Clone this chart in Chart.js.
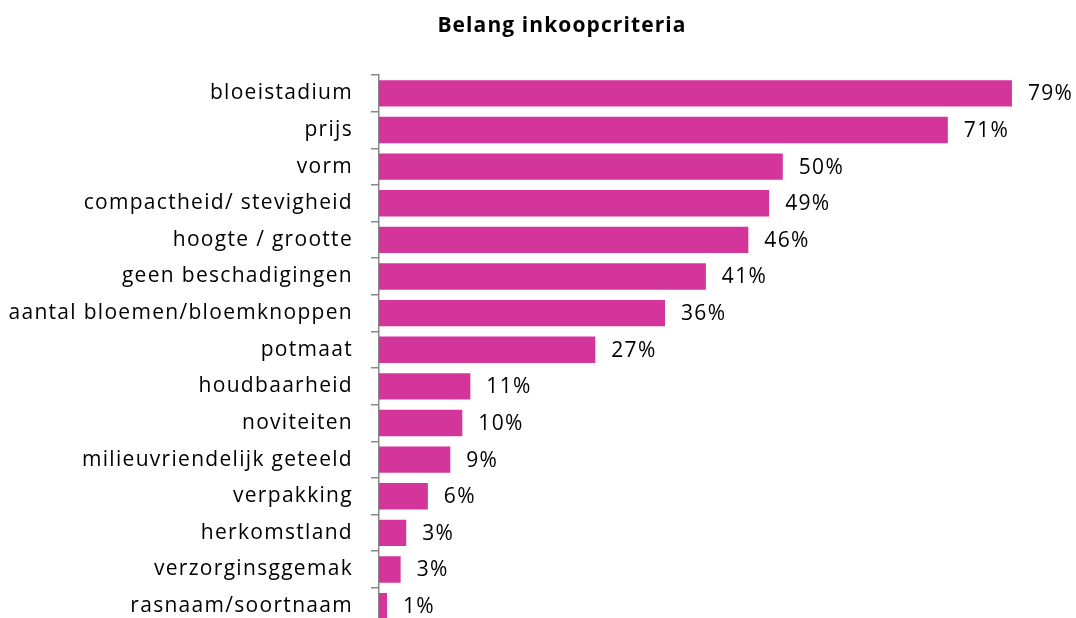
<!DOCTYPE html>
<html>
<head>
<meta charset="utf-8">
<script src="https://cdn.jsdelivr.net/npm/chart.js@4/dist/chart.umd.min.js"></script>
<style>
  html, body { margin: 0; padding: 0; background: #fff; overflow: hidden; }
</style>
</head>
<body>
<canvas id="inkoopChart" width="1076" height="655"></canvas>
<script>
// categories, top to bottom
var criteria = ["bloeistadium", "prijs", "vorm", "compactheid/ stevigheid", "hoogte / grootte",
  "geen beschadigingen", "aantal bloemen/bloemknoppen", "potmaat", "houdbaarheid", "noviteiten",
  "milieuvriendelijk geteeld", "verpakking", "herkomstland", "verzorginsggemak", "rasnaam/soortnaam"];
// share of buyers (%)
var belang = [79, 71, 50.4, 48.7, 46.1, 40.8, 35.7, 27, 11.4, 10.4, 8.9, 6.1, 3.4, 2.7, 1];

var chartTitle = "Belang inkoopcriteria";
var barColor = "#D4359B";
var fontName = "'Open Sans', Lato, sans-serif";

// the source font runs wide, so space the letters out a bit
var wideText = {
  id: 'wideText',
  beforeDraw: function(chart) {
    chart.ctx.letterSpacing = "1.3px";
  }
};

// title, centred a little right of the canvas middle as in the original
var titleText = {
  id: 'titleText',
  afterDraw: function(chart) {
    var ctx = chart.ctx;
    ctx.save();
    ctx.letterSpacing = "1.1px";
    ctx.font = "bold 21px " + fontName;
    ctx.fillStyle = "#000";
    ctx.textAlign = "center";
    ctx.textBaseline = "alphabetic";
    ctx.fillText(chartTitle, 562, 32);
    ctx.restore();
  }
};

// draws "79%" etc. next to each bar
var valueLabels = {
  id: 'valueLabels',
  afterDatasetsDraw: function(chart) {
    var ctx = chart.ctx;
    var meta = chart.getDatasetMeta(0);
    ctx.save();
    ctx.letterSpacing = "1.3px";
    ctx.font = "21px " + fontName;
    ctx.fillStyle = "#000";
    ctx.textAlign = "left";
    ctx.textBaseline = "middle";
    meta.data.forEach(function(bar, i) {
      ctx.fillText(Math.round(belang[i]) + "%", bar.x + 16, bar.y + 1);
    });
    ctx.restore();
  }
};

function initChart() {
  var canvas = document.getElementById("inkoopChart");

  var chart = new Chart(canvas, {
    type: 'bar',
    data: {
      labels: criteria,
      datasets: [{
        data: belang,
        backgroundColor: barColor,
        borderWidth: 0,
        barPercentage: 0.72,
        categoryPercentage: 1
      }]
    },
    options: {
      indexAxis: 'y',
      responsive: false,
      animation: false,
      layout: { padding: { left: 0, right: 8, top: 75, bottom: 0 } },
      plugins: {
        legend: { display: false },
        tooltip: { enabled: false },
        title: { display: false }
      },
      scales: {
        x: {
          display: false,
          min: 0,
          max: 86
        },
        y: {
          afterFit: function(scale) { scale.width = 379; },
          border: { display: true, color: "#888", width: 1.5 },
          grid: { drawOnChartArea: false, tickLength: 8, color: "#888", lineWidth: 1.5, offset: true },
          ticks: {
            color: "#000",
            padding: 18,
            font: { family: fontName, size: 21 }
          }
        }
      }
    },
    plugins: [wideText, valueLabels, titleText]
  });
}

initChart();
</script>
</body>
</html>
